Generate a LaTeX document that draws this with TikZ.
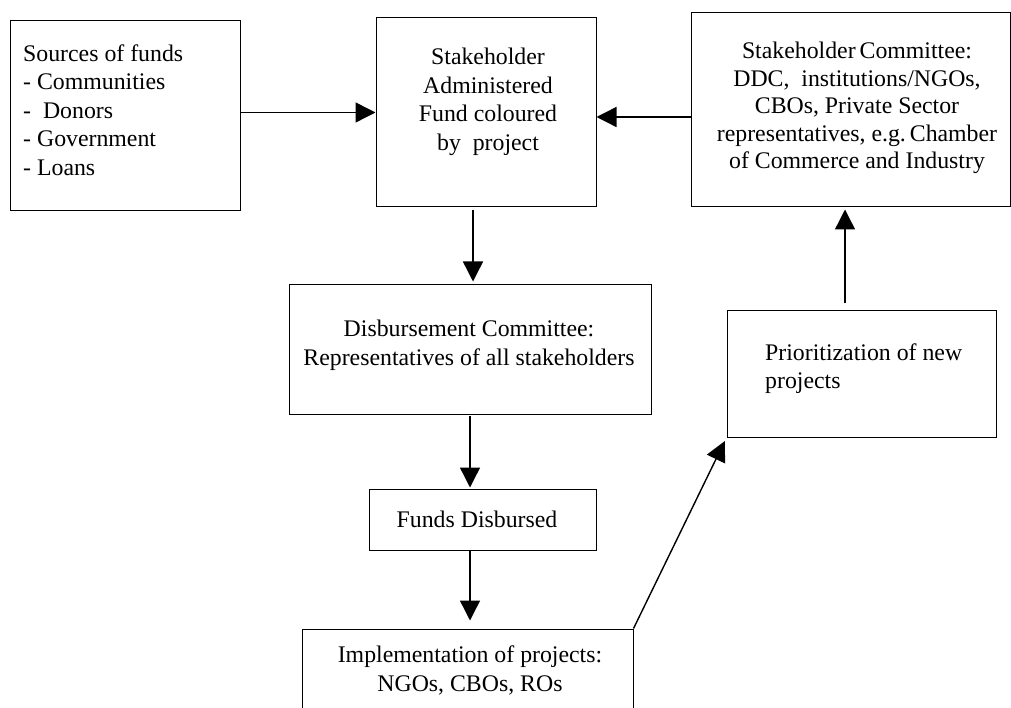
\documentclass[tikz,border=0pt]{standalone}
\usepackage{fontspec}
\setmainfont{Liberation Serif}
\usetikzlibrary{arrows.meta}
\tikzset{
  box/.style={draw=black, line width=1pt, rectangle, inner sep=0pt},
  txt/.style={inner sep=0pt, font=\fontsize{23.8pt}{28.5pt}\selectfont},
  arr/.style={draw=black, line width=1.4pt, -{Triangle[length=20pt,width=20pt]}}
}
\begin{document}
\begin{tikzpicture}[x=1pt,y=-1pt]
\useasboundingbox (0,0) rectangle (1011,708);
% boxes
\node[box, minimum width=230pt, minimum height=190pt] (src)   at (125,116) {};
\node[box, minimum width=220pt, minimum height=189pt] (fund)  at (486,112.5) {};
\node[box, minimum width=319pt, minimum height=194pt] (sc)    at (850.5,110) {};
\node[box, minimum width=362pt, minimum height=129pt] (disb)  at (470,349.5) {};
\node[box, minimum width=269pt, minimum height=126pt] (prior) at (861.5,374) {};
\node[box, minimum width=227pt, minimum height=61pt]  (fd)    at (482.5,519.5) {};
\node[box, minimum width=331pt, minimum height=90pt]  (impl)  at (467.5,674) {};
% texts
\node[txt, align=left, anchor=west] (srct) at (23,110)
  {Sources of funds\\- Communities\\-~~Donors\\- Government\\- Loans};
\node[txt, align=center] (fundt) at (488,102)
  {Stakeholder\\Administered\\Fund coloured\\by~~project};
\node[txt, align=center, font=\fontsize{23.8pt}{27.5pt}\selectfont] (sct) at (857,108)
  {Stakeholder\,Committee:\\DDC,~~institutions/NGOs,\\CBOs, Private Sector\\representatives, e.g.\,Chamber\\of Commerce and Industry};
\node[txt, align=center] (disbt) at (469,345.5)
  {Disbursement Committee:\\Representatives of all stakeholders};
\node[txt, align=left, anchor=west] (priort) at (765,368.5)
  {Prioritization of new\\projects};
\node[txt] (fdt) at (477,519) {Funds Disbursed};
\node[txt, align=center] (implt) at (470,670.5)
  {Implementation of projects:\\NGOs, CBOs, ROs};
% connectors
\draw[arr] (src.east |- fund.west) -- (fund.west);
\draw[arr] ([yshift=-7pt]sc.west) -- ([yshift=-7pt]sc.west -| fund.east);
\draw[arr, shorten <=3pt, shorten >=3pt] ([xshift=-13pt]fund.south) -- ([xshift=-13pt]fund.south |- disb.north);
\draw[arr, shorten <=1pt, shorten >=1pt] (disb.south) -- (disb.south |- fd.north);
\draw[arr, shorten >=8pt] (disb.south |- fd.south) -- (disb.south |- impl.north);
\draw[arr, shorten >=4pt] (impl.north east) -- (prior.south west);
\draw[arr, shorten <=7pt, shorten >=2pt] ([xshift=-16.5pt]prior.north) -- ([xshift=-16.5pt]prior.north |- sc.south);
\end{tikzpicture}
\end{document}
